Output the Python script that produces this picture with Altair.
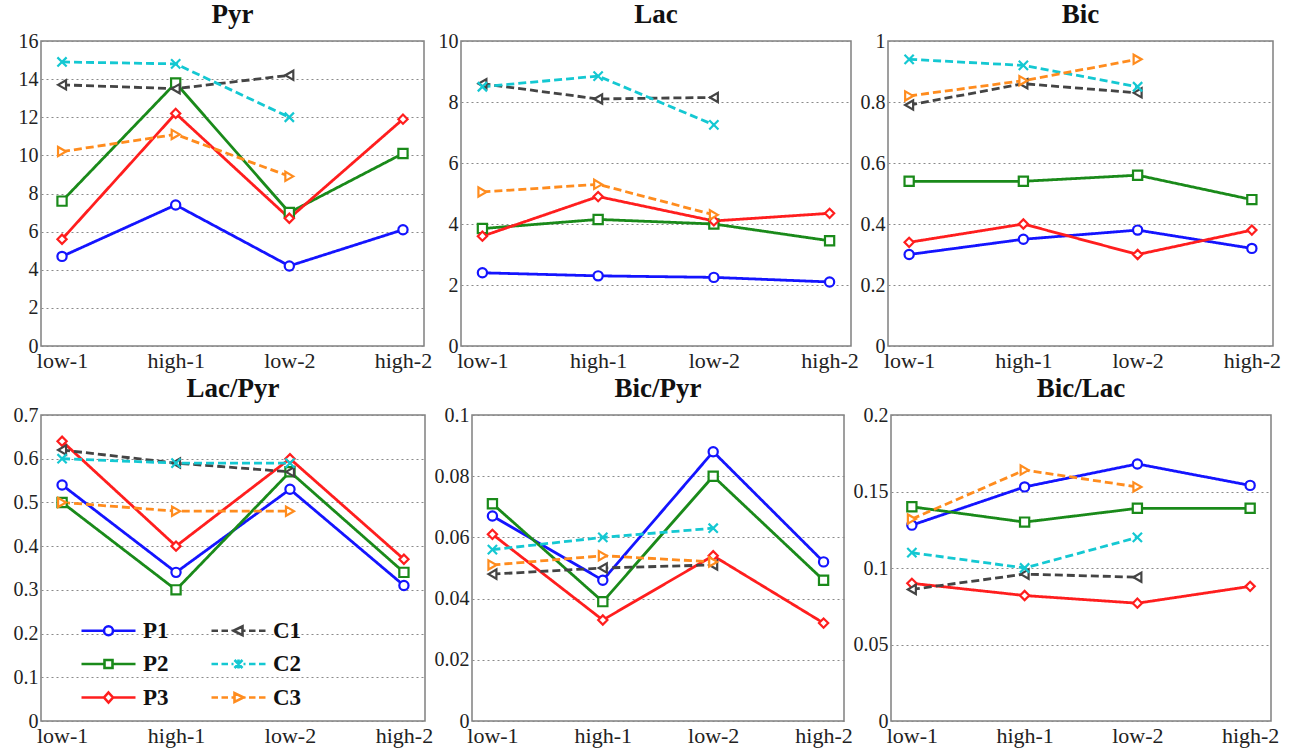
import altair as alt
import pandas as pd

conditions = ["low-1", "high-1", "low-2", "high-2"]
series_order = ["P1", "P2", "P3", "C1", "C2", "C3"]
series_colors = ["#1414ff", "#1a8a1a", "#ff1e1e", "#444444", "#14c8d2", "#ff8c1e"]
marker_shapes = ["circle", "square", "diamond", "triangle-left", "M-1,-1L1,1M-1,1L1,-1", "triangle-right"]
marker_keys = ["m-" + s for s in series_order]

pyr = {"P1": [4.7, 7.4, 4.2, 6.1], "P2": [7.6, 13.8, 7.0, 10.1], "P3": [5.6, 12.2, 6.7, 11.9],
       "C1": [13.7, 13.5, 14.2], "C2": [14.9, 14.8, 12.0], "C3": [10.2, 11.1, 8.9]}
lac = {"P1": [2.4, 2.3, 2.25, 2.1], "P2": [3.85, 4.15, 4.0, 3.45], "P3": [3.6, 4.9, 4.1, 4.35],
       "C1": [8.6, 8.1, 8.15], "C2": [8.5, 8.85, 7.25], "C3": [5.05, 5.3, 4.3]}
bic = {"P1": [0.30, 0.35, 0.38, 0.32], "P2": [0.54, 0.54, 0.56, 0.48], "P3": [0.34, 0.40, 0.30, 0.38],
       "C1": [0.79, 0.86, 0.83], "C2": [0.94, 0.92, 0.85], "C3": [0.82, 0.87, 0.94]}
lac_pyr = {"P1": [0.54, 0.34, 0.53, 0.31], "P2": [0.50, 0.30, 0.57, 0.34], "P3": [0.64, 0.40, 0.60, 0.37],
           "C1": [0.62, 0.59, 0.57], "C2": [0.60, 0.59, 0.59], "C3": [0.50, 0.48, 0.48]}
bic_pyr = {"P1": [0.067, 0.046, 0.088, 0.052], "P2": [0.071, 0.039, 0.080, 0.046], "P3": [0.061, 0.033, 0.054, 0.032],
           "C1": [0.048, 0.050, 0.051], "C2": [0.056, 0.060, 0.063], "C3": [0.051, 0.054, 0.052]}
bic_lac = {"P1": [0.128, 0.153, 0.168, 0.154], "P2": [0.140, 0.130, 0.139, 0.139], "P3": [0.090, 0.082, 0.077, 0.088],
           "C1": [0.086, 0.096, 0.094], "C2": [0.110, 0.100, 0.120], "C3": [0.132, 0.164, 0.153]}

ticks_pyr = [0, 2, 4, 6, 8, 10, 12, 14, 16]
ticks_lac = [0, 2, 4, 6, 8, 10]
ticks_bic = [0, 0.2, 0.4, 0.6, 0.8, 1]
ticks_lac_pyr = [0, 0.1, 0.2, 0.3, 0.4, 0.5, 0.6, 0.7]
ticks_bic_pyr = [0, 0.02, 0.04, 0.06, 0.08, 0.1]
ticks_bic_lac = [0, 0.05, 0.1, 0.15, 0.2]

FONT = "Liberation Serif"

# legend symbols (units of r = sqrt(symbolSize)/2 = 10 px): line + marker in one path
L = 2.7
def seg_solid(m):
    return f"M-{L},0L-{m},0M{m},0L{L},0"

def seg_dash():
    return (f"M-{L},0L-2.05,0M-1.7,0L-1.05,0M-0.7,0L-0.5,0"
            f"M0.5,0L0.7,0M1.05,0L1.7,0M2.05,0L{L},0")

mk = {
    "P1": "M-0.45,0A0.45,0.45 0 1,1 0.45,0A0.45,0.45 0 1,1 -0.45,0Z",
    "P2": "M-0.4,-0.4L0.4,-0.4L0.4,0.4L-0.4,0.4Z",
    "P3": "M0,-0.5L0.45,0L0,0.5L-0.45,0Z",
    "C1": "M-0.5,0L0.4,-0.45L0.4,0.45Z",
    "C2": "M-0.4,-0.4L0.4,0.4M-0.4,0.4L0.4,-0.4M0,-0.45L0,0.45",
    "C3": "M0.5,0L-0.4,-0.45L-0.4,0.45Z",
}
leg_path = {}
for s in series_order:
    line = seg_solid(0.45) if s.startswith("P") else seg_dash()
    leg_path[s] = line + mk[s]
expr = "'circle'"
for s in reversed(series_order):
    expr = f"datum.value === '{s}' ? '{leg_path[s]}' : ({expr})"

legend = alt.Legend(
    title=None, orient="none", legendX=56, legendY=578, columns=2, columnPadding=37,
    rowPadding=9.5, labelFont=FONT, labelFontSize=23, labelFontWeight="bold", labelColor="#111",
    symbolSize=400, labelOffset=23, padding=0,
    symbolType={"expr": expr}, symbolStrokeWidth=2.6, symbolFillColor="white", symbolOpacity=1,
)

color_scale = alt.Scale(domain=series_order, range=series_colors)


def make_df(vals):
    rows = []
    for s, v in vals.items():
        for i, y in enumerate(v):
            rows.append({"series": s, "marker": "m-" + s, "kind": s[0], "cond": conditions[i], "idx": i, "value": y})
    return pd.DataFrame(rows)


def panel(title, vals, ticks, ext, w, h):
    df = make_df(vals)
    base = alt.Chart(df).encode(
        x=alt.X("cond:N", sort=conditions, scale=alt.Scale(type="point", padding=0.185),
                axis=alt.Axis(title=None, labelAngle=0, grid=False, labelPadding=4, labelFontSize=22,
                              minExtent=27, maxExtent=27)),
        y=alt.Y("value:Q", scale=alt.Scale(domain=[ticks[0], ticks[-1]], nice=False),
                axis=alt.Axis(title=None, values=ticks, format=".3~f", grid=True, gridDash=[2, 3],
                              gridColor="#8a8a8a", gridWidth=1, labelPadding=3,
                              minExtent=ext, maxExtent=ext)),
    )
    line = base.mark_line(strokeWidth=2.8).encode(
        color=alt.Color("series:N", scale=color_scale, legend=legend),
        strokeDash=alt.StrokeDash("kind:N", scale=alt.Scale(domain=["P", "C"], range=[[1, 0], [8, 4]]), legend=None),
        order="idx:Q",
    )
    pts = base.mark_point(filled=False, fill="white", size=85, strokeWidth=2.2, opacity=1).encode(
        stroke=alt.Stroke("marker:N", scale=alt.Scale(domain=marker_keys, range=series_colors), legend=None),
        shape=alt.Shape("marker:N", scale=alt.Scale(domain=marker_keys, range=marker_shapes), legend=None),
    )
    return alt.layer(line, pts).properties(width=w, height=h, title=alt.Title(title))


shared = dict(color="shared", shape="shared", stroke="shared", strokeDash="shared")

top = alt.hconcat(
    panel("Pyr", pyr, ticks_pyr, 40, 383, 305),
    panel("Lac", lac, ticks_lac, 34, 390, 305),
    panel("Bic", bic, ticks_bic, 41, 385, 305),
    spacing=37, bounds="flush",
).resolve_scale(x="independent", y="independent", **shared)

bottom = alt.hconcat(
    panel("Lac/Pyr", lac_pyr, ticks_lac_pyr, 40, 384, 306),
    panel("Bic/Pyr", bic_pyr, ticks_bic_pyr, 54, 372, 306),
    panel("Bic/Lac", bic_lac, ticks_bic_lac, 45, 380, 306),
    spacing=47, bounds="flush",
).resolve_scale(x="independent", y="independent", **shared)

chart = alt.vconcat(top, bottom, spacing=0).resolve_scale(**shared).properties(
    padding={"left": 0, "top": 0, "right": 0, "bottom": 0},
    background="white",
).configure_view(stroke="#808080", strokeWidth=1.5).configure_axis(
    labelFont=FONT, labelFontSize=20, labelColor="#222", domain=False, ticks=False
).configure_title(
    font=FONT, fontSize=27, fontWeight="bold", color="#111", frame="group", offset=2, anchor="middle"
)

chart.save("out.html", embed_options={"renderer": "svg", "actions": False})
